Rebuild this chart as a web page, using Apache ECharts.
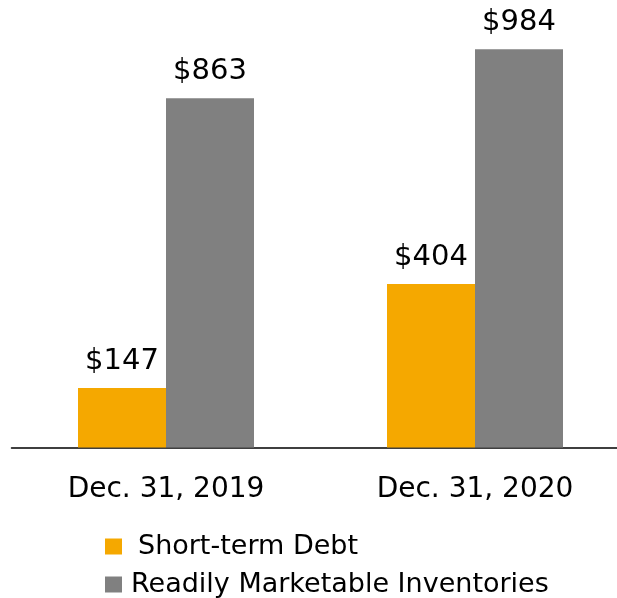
<!DOCTYPE html>
<html>
<head>
<meta charset="utf-8">
<script src="https://cdn.jsdelivr.net/npm/echarts@6/dist/echarts.min.js"></script>
<style>
  html, body { margin: 0; padding: 0; background: #fff; }
  #chart { width: 617px; height: 598px; }
</style>
</head>
<body>
<div id="chart"></div>
<script>
// Year-end balances (millions of dollars)
const categories = ['Dec. 31, 2019', 'Dec. 31, 2020'];
const shortTermDebt = [147, 404];
const marketableInventories = [863, 984];
const seriesNames = ['Short-term Debt', 'Readily Marketable Inventories'];

const FONT = '"DejaVu Sans", Arial, sans-serif';
const ORANGE = '#F5A800';
const GRAY = '#808080';

const valueLabel = {
  show: true,
  position: 'top',
  distance: 12,
  formatter: p => '$' + p.value,
  fontFamily: FONT,
  fontSize: 29,
  color: '#000'
};

// one legend block per row, stacked vertically
function legendRow(name, top, gap) {
  return {
    orient: 'vertical',
    left: 100,
    top: top,
    itemWidth: 17,
    itemHeight: 16,
    itemGap: 0,
    icon: 'rect',
    data: [name],
    textStyle: {
      fontFamily: FONT,
      fontSize: 27,
      color: '#000',
      padding: [0, 0, 0, gap]
    }
  };
}

const chart = echarts.init(document.getElementById('chart'), null, { renderer: 'canvas' });
chart.setOption({
  animation: false,
  backgroundColor: '#fff',
  grid: { left: 11.5, width: 618, top: 42.8, bottom: 150.5, containLabel: false, outerBoundsMode: 'none' },
  xAxis: {
    type: 'category',
    data: categories,
    axisLine: { show: true, lineStyle: { color: '#000', width: 1.5 } },
    axisTick: { show: false },
    axisLabel: { margin: 28, fontFamily: FONT, fontSize: 28, color: '#000' }
  },
  yAxis: {
    type: 'value',
    min: 0,
    max: 1000,
    show: false,
    splitLine: { show: false }
  },
  legend: [
    legendRow(seriesNames[0], 528, 11),
    legendRow(seriesNames[1], 566, 4)
  ],
  series: [
    {
      name: seriesNames[0],
      type: 'bar',
      data: shortTermDebt,
      barWidth: 88,
      barGap: '0%',
      itemStyle: { color: ORANGE },
      label: valueLabel
    },
    {
      name: seriesNames[1],
      type: 'bar',
      data: marketableInventories,
      barWidth: 88,
      barGap: '0%',
      itemStyle: { color: GRAY },
      label: valueLabel
    }
  ]
});
</script>
</body>
</html>
